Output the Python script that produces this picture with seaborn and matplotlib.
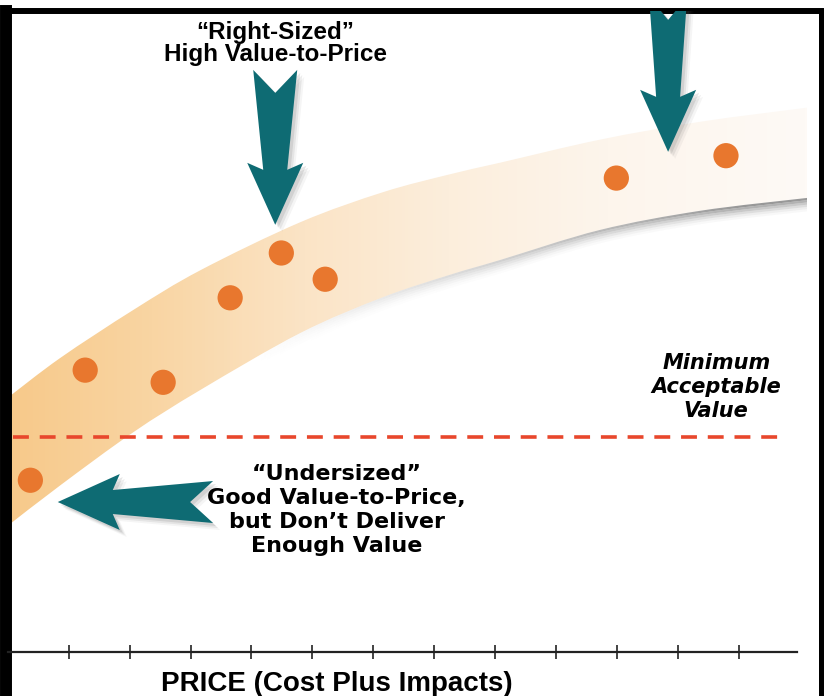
import numpy as np
import matplotlib as mpl
mpl.use("Agg")
import matplotlib.pyplot as plt
from matplotlib.colors import LinearSegmentedColormap
from matplotlib.patches import Polygon
from matplotlib.path import Path
import seaborn as sns

# ---- data (price units on x, value units on y) ----
price_ticks = [1, 2, 3, 4, 5, 6, 7, 8, 9, 10, 11, 12]

band_x = [0.0, 0.86, 2.06, 3.16, 4.8, 6.16, 7.26, 8.08, 9.72, 11.37, 13.12]
band_low = [1.97, 2.6, 3.43, 4.09, 4.98, 5.54, 5.89, 6.12, 6.59, 6.89, 7.09]
band_high = [3.97, 4.59, 5.34, 5.96, 6.71, 7.18, 7.46, 7.64, 8.0, 8.28, 8.5]

item_price = [0.37, 1.27, 2.55, 3.65, 4.49, 5.21, 9.99, 11.79]
item_value = [2.68, 4.40, 4.21, 5.53, 6.23, 5.82, 7.40, 7.75]

min_value = 3.35
min_line_span = [0.09, 12.8]

# arrows: (tail, tip, tail half width in px)
arrows = [
    ((4.39, 9.09), (4.39, 6.67), 22),
    ((10.84, 10.23), (10.84, 7.81), 19),
    ((3.37, 2.34), (0.82, 2.34), 21),
]

label_right = "\u201cRight-Sized\u201d\nHigh Value-to-Price"
label_under = "\u201cUndersized\u201d\nGood Value-to-Price,\nbut Don\u2019t Deliver\nEnough Value"
label_min = "Minimum\nAcceptable\nValue"
xlabel = "PRICE (Cost Plus Impacts)"

TEAL = "#0E6B73"
DOT = "#E8772E"
DASH = "#E8472C"

sns.set_style("white")
plt.rcParams["font.family"] = ["Liberation Sans", "DejaVu Sans"]
plt.rcParams["text.color"] = "black"
plt.rcParams["axes.labelcolor"] = "black"

fig = plt.figure(figsize=(8.27, 6.96), dpi=100)
ax = fig.add_axes([6 / 827, 0, 815 / 827, 685 / 696])
ax.set_xlim(-0.03, 13.35)
ax.set_ylim(-0.69, 10.01)


def spline_verts(xs, ys):
    # smooth curve through the read points (Catmull-Rom as cubic Bezier)
    P = np.column_stack([xs, ys]).astype(float)
    verts = [P[0]]
    for i in range(len(P) - 1):
        p0 = P[max(i - 1, 0)]
        p1, p2 = P[i], P[i + 1]
        p3 = P[min(i + 2, len(P) - 1)]
        verts += [p1 + (p2 - p0) / 6, p2 - (p3 - p1) / 6, p2]
    return verts


def ribbon_path(xs, top, bottom):
    up = spline_verts(xs, top)
    lo = spline_verts(xs[::-1], bottom[::-1])
    verts = up + lo + [up[0]]
    codes = ([Path.MOVETO] + [Path.CURVE4] * (len(up) - 1) + [Path.LINETO]
             + [Path.CURVE4] * (len(lo) - 1) + [Path.CLOSEPOLY])
    return Path(verts, codes)


bx = np.array(band_x)
low = np.array(band_low)
high = np.array(band_high)

# band with horizontal gradient
cmap = LinearSegmentedColormap.from_list(
    "band",
    [(0, "#F7C98A"), (0.18, "#F9D5A3"), (0.37, "#FBE4C6"),
     (0.55, "#FCEEDC"), (0.75, "#FDF5EC"), (1, "#FEFAF6")],
)
grad = np.linspace(0, 1, 256).reshape(1, -1)
im = ax.imshow(grad, extent=[bx[0], bx[-1], low.min() - 0.2, high.max() + 0.2],
               aspect="auto", cmap=cmap, origin="lower", zorder=1)
im.set_clip_path(ribbon_path(bx, high, low), ax.transData)

# grey shadow under the lower edge, stronger on the right
ramp = np.clip((np.linspace(bx[0], bx[-1], 256) - 4.0) / 8.0, 0, 1) ** 1.2
for k, fac in enumerate([0.8, 0.6, 0.42, 0.26, 0.13, 0.05]):
    rgba = np.zeros((1, 256, 4))
    rgba[..., :3] = 0.5
    rgba[0, :, 3] = ramp * fac
    sh = ax.imshow(rgba, extent=[bx[0], bx[-1], low.min() - 0.5, low.max() + 0.1],
                   aspect="auto", origin="lower", zorder=1.5)
    sh.set_clip_path(ribbon_path(bx, low - 0.035 * k, low - 0.035 * (k + 1)), ax.transData)

# minimum acceptable value
ax.hlines(min_value, *min_line_span, colors=DASH, linewidth=2.6,
          linestyles=(0, (4.4, 3.0)), zorder=2)

# products
sns.scatterplot(x=item_price, y=item_value, s=330, color=DOT, edgecolor="none",
                ax=ax, zorder=5, legend=False)


def draw_arrow(tail, tip, half):
    p0 = ax.transData.transform(tail)
    p1 = ax.transData.transform(tip)
    d = p1 - p0
    L = np.hypot(*d)
    u = d / L
    n = np.array([-u[1], u[0]])
    shape = [(0, -half), (23, 0), (0, half), (L - 55, 12), (L - 62, 28),
             (L, 0), (L - 62, -28), (L - 55, -12)]
    pts = np.array([p0 + a * u + b * n for a, b in shape])
    inv = ax.transData.inverted()
    for off, alpha in [(7, 0.06), (5, 0.1), (3, 0.14)]:
        ax.add_patch(Polygon(inv.transform(pts + [off, -off]), closed=True,
                             fc="0.35", ec="none", alpha=alpha, zorder=3))
    ax.add_patch(Polygon(inv.transform(pts), closed=True, fc=TEAL, ec="none", zorder=4))


for tail, tip, half in arrows:
    draw_arrow(tail, tip, half)

# annotations
ax.text(4.39, 9.50, label_right, ha="center", va="center", fontsize=17.5,
        fontweight="bold", linespacing=0.93, zorder=6)
ax.text(5.40, 2.22, label_under, ha="center", va="center", fontsize=16,
        fontweight="bold", linespacing=1.25, family=["DejaVu Sans"], zorder=6)
ax.text(11.63, 4.14, label_min, ha="center", va="center", fontsize=15,
        fontweight="bold", fontstyle="italic", linespacing=1.24,
        family=["DejaVu Sans"], zorder=6)

# axes / frame
ax.set_yticks([])
ax.set_xticks(price_ticks)
ax.tick_params(axis="x", direction="inout", length=10, width=1.2, color="#222",
               labelbottom=False, top=False, bottom=True)
ax.spines["bottom"].set_position(("data", 0))
ax.spines["bottom"].set_bounds(0.0, 12.96)
ax.spines["bottom"].set_linewidth(1.6)
ax.spines["bottom"].set_color("#222")
ax.spines["left"].set_linewidth(8.6)
ax.spines["top"].set_linewidth(4.3)
ax.spines["right"].set_linewidth(3.6)
for s in ["left", "top", "right"]:
    ax.spines[s].set_color("black")

ax.set_xlabel(xlabel, fontsize=20, fontweight="bold")
ax.xaxis.set_label_coords(0.406, 0.037)

ax.set_xlim(-0.03, 13.35)
ax.set_ylim(-0.69, 10.01)
fig.savefig("out.png", dpi=100)
